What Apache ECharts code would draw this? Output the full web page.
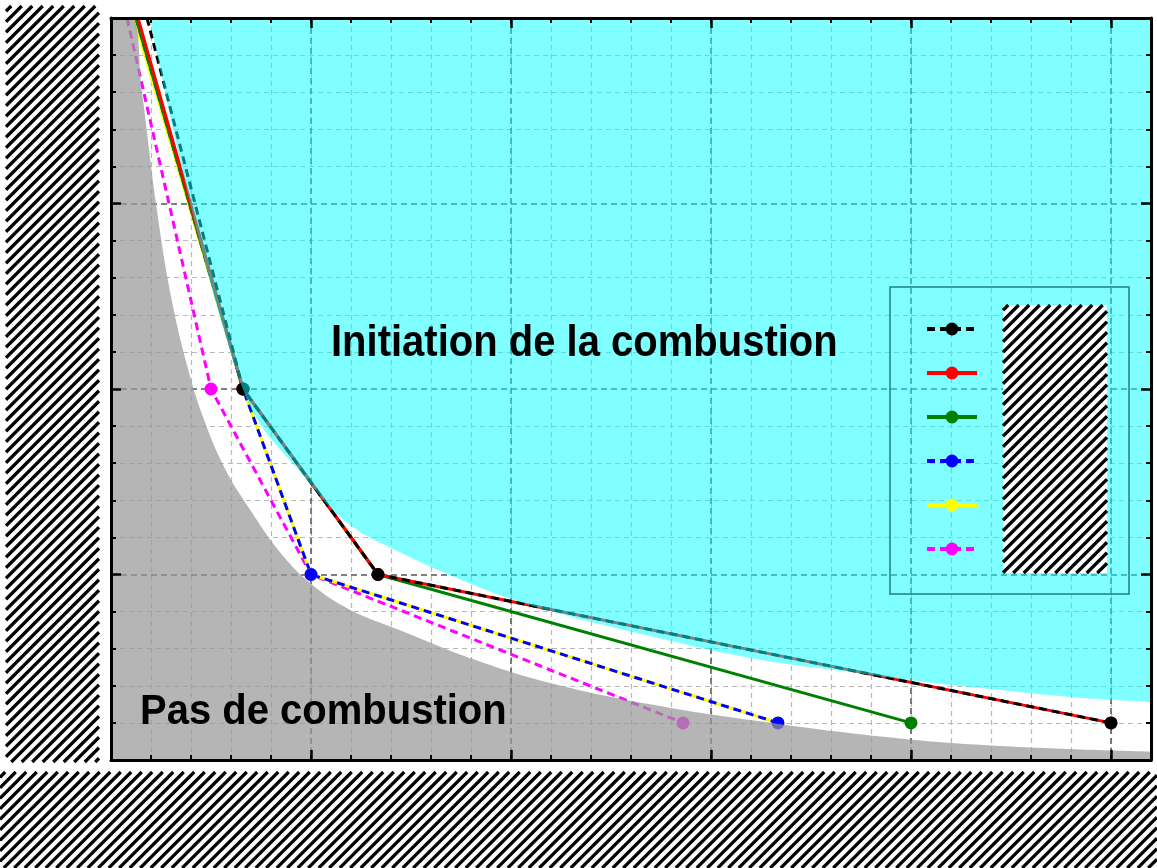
<!DOCTYPE html>
<html>
<head>
<meta charset="utf-8">
<script src="https://cdn.jsdelivr.net/npm/echarts@6/dist/echarts.min.js"></script>
<style>
  html, body { margin: 0; padding: 0; background: #fff; }
  #chart { width: 1157px; height: 868px; }
</style>
</head>
<body>
<div id="chart"></div>
<script>
// series names (legend labels are masked in the source picture)
const names = ['Essai 1', 'Essai 2', 'Essai 3', 'Essai 4', 'Essai 5', 'Essai 6'];

// measured curves, [x, y]
const blackPts = [[0.18, 4], [0.66, 2], [1.335, 1], [5.0, 0.2]];
const redPts = [[0.135, 4], [0.66, 2], [1.335, 1], [5.0, 0.2]];
const greenPts = [[0.125, 4], [0.66, 2], [1.335, 1], [4.0, 0.2]];
const bluePts = [[0.125, 4], [0.66, 2], [1.0, 1], [3.335, 0.2]];
const yellowPts = [[0.115, 4], [0.66, 2], [1.0, 1], [3.335, 0.2]];
const magentaPts = [[0.08, 4], [0.5, 2], [1.0, 1], [2.86, 0.2]];

// region limits
const noCombustionEdge = [
  [0, 4], [0.10, 4], [0.155, 3.6], [0.225, 3.0], [0.30, 2.5], [0.38, 2.13], [0.46, 1.85],
  [0.57, 1.57], [0.695, 1.35], [0.845, 1.12], [1.0, 0.95], [1.195, 0.81], [1.445, 0.70],
  [1.82, 0.54], [2.195, 0.415], [2.695, 0.30], [3.195, 0.215], [3.86, 0.125],
  [4.445, 0.075], [5.2, 0.045]
];
const ignitionEdge = [
  [0.195, 4], [0.66, 2], [1.01, 1.47], [1.195, 1.267], [1.445, 1.12], [1.695, 0.997],
  [1.945, 0.889], [2.195, 0.803], [2.695, 0.668], [3.195, 0.55], [3.695, 0.474],
  [4.03, 0.426], [4.445, 0.377], [4.795, 0.34], [5.2, 0.313]
];

const chart = echarts.init(document.getElementById('chart'));

// masked areas of the source: white box crossed by "/" stripes
function hatchBox(x0, y0, w, h) {
  const x1 = x0 + w, y1 = y0 + h, step = 10.5;
  const out = [{ type: 'rect', z: 100, silent: true, shape: { x: x0, y: y0, width: w, height: h }, style: { fill: '#fff' } }];
  for (let c = x0 + y0 + step / 2; c < x1 + y1; c += step) {
    const ya = Math.max(y0, c - x1), yb = Math.min(y1, c - x0);
    if (yb <= ya) continue;
    out.push({
      type: 'line', z: 101, silent: true,
      shape: { x1: c - ya, y1: ya, x2: c - yb, y2: yb },
      style: { stroke: '#000', lineWidth: 3.2 }
    });
  }
  return out;
}

function curve(name, data, color, dashed) {
  return {
    name, type: 'line', xAxisIndex: 0, yAxisIndex: 0, z: 2,
    data: data.map((p, i) => (i === 0 ? { value: p, symbol: 'none' } : p)),
    symbol: 'circle', symbolSize: 13,
    lineStyle: { color, width: 3, type: dashed ? [8, 5] : 'solid' },
    itemStyle: { color },
    silent: true
  };
}

function region(data, color, origin) {
  return {
    type: 'line', xAxisIndex: 0, yAxisIndex: 0, z: 3,
    data, symbol: 'none', smooth: 0.4,
    lineStyle: { width: 0, opacity: 0 },
    areaStyle: { color, origin, opacity: 1 },
    silent: true
  };
}

const box = { left: 111, top: 18, width: 1040, height: 742 };
const hidden = { axisLine: { show: false }, axisTick: { show: false }, axisLabel: { show: false } };
const frameLine = { show: true, onZero: false, lineStyle: { color: '#000', width: 3 } };
const majorTick = { show: true, inside: true, length: 10, lineStyle: { color: '#000', width: 2.5 } };
const minorTick = { show: true, inside: true, length: 5, lineStyle: { color: '#000', width: 2 } };
const majorGrid = { show: true, lineStyle: { color: '#555', type: [6, 4], width: 1.5 } };
const minorGrid = { show: true, lineStyle: { color: '#b8b8b8', type: [5, 4], width: 1.2 } };

const xBase = { type: 'value', min: 0, max: 5.2 };
const yBase = { type: 'value', min: 0, max: 4 };

chart.setOption({
  animation: false,
  backgroundColor: '#fff',
  grid: [box, box, box],
  xAxis: [
    { ...xBase, ...hidden, gridIndex: 0, interval: 0.2, position: 'bottom', splitLine: minorGrid },
    { ...xBase, ...hidden, gridIndex: 0, interval: 1, position: 'top', splitLine: majorGrid },
    { ...xBase, gridIndex: 1, interval: 1, position: 'bottom', z: 10, axisLine: frameLine, axisTick: majorTick, axisLabel: { show: false }, splitLine: { show: false } },
    { ...xBase, gridIndex: 1, interval: 1, position: 'top', z: 10, axisLine: frameLine, axisTick: majorTick, axisLabel: { show: false }, splitLine: { show: false } },
    { ...xBase, gridIndex: 2, interval: 0.2, position: 'bottom', z: 10, axisLine: { show: false }, axisTick: minorTick, axisLabel: { show: false }, splitLine: { show: false } },
    { ...xBase, gridIndex: 2, interval: 0.2, position: 'top', z: 10, axisLine: { show: false }, axisTick: minorTick, axisLabel: { show: false }, splitLine: { show: false } }
  ],
  yAxis: [
    { ...yBase, ...hidden, gridIndex: 0, interval: 1, position: 'left', splitLine: majorGrid, minorTick: { show: false, splitNumber: 5 }, minorSplitLine: minorGrid },
    { ...yBase, gridIndex: 1, interval: 1, position: 'left', z: 10, axisLine: frameLine, axisTick: majorTick, minorTick: { ...minorTick, splitNumber: 5 }, axisLabel: { show: false }, splitLine: { show: false } },
    { ...yBase, gridIndex: 1, interval: 1, position: 'right', z: 10, axisLine: frameLine, axisTick: majorTick, minorTick: { ...minorTick, splitNumber: 5 }, axisLabel: { show: false }, splitLine: { show: false } },
    { ...yBase, gridIndex: 2, show: false }
  ],
  legend: {
    data: names, orient: 'vertical', left: 925, top: 321, padding: 0,
    itemWidth: 50, itemHeight: 16, itemGap: 28, selectedMode: false,
    lineStyle: { width: 4 },
    textStyle: { fontSize: 16, color: '#000', padding: [0, 0, 0, 30] }
  },
  // drawing order: later curves sit on top
  series: [
    curve(names[5], magentaPts, '#ff00ff', true),
    curve(names[4], yellowPts, '#ffff00', false),
    curve(names[3], bluePts, '#0000ff', true),
    curve(names[2], greenPts, '#008000', false),
    curve(names[1], redPts, '#ff0000', false),
    curve(names[0], blackPts, '#000000', true),
    region(noCombustionEdge, 'rgba(152,152,152,0.72)', 'start'),
    region(ignitionEdge, 'rgba(0,255,255,0.5)', 'end')
  ],
  graphic: [
    { type: 'rect', z: 50, silent: true, shape: { x: 890, y: 287, width: 239, height: 307 }, style: { fill: 'none', stroke: '#237f7f', lineWidth: 1.5 } },
    ...hatchBox(6, 6, 93, 756),
    ...hatchBox(0, 772, 1157, 96),
    ...hatchBox(1003, 305, 104, 268),
    { type: 'text', z: 100, silent: true, x: 331, y: 344, scaleY: 1.12,
      style: { text: 'Initiation de la combustion', x: 0, y: 0, fill: '#000', font: 'bold 40px "Liberation Sans", Arial, sans-serif', textAlign: 'left', textVerticalAlign: 'middle' } },
    { type: 'text', z: 100, silent: true, x: 140, y: 712, scaleY: 1.05,
      style: { text: 'Pas de combustion', x: 0, y: 0, fill: '#000', font: 'bold 40px "Liberation Sans", Arial, sans-serif', textAlign: 'left', textVerticalAlign: 'middle' } }
  ]
});
</script>
</body>
</html>
